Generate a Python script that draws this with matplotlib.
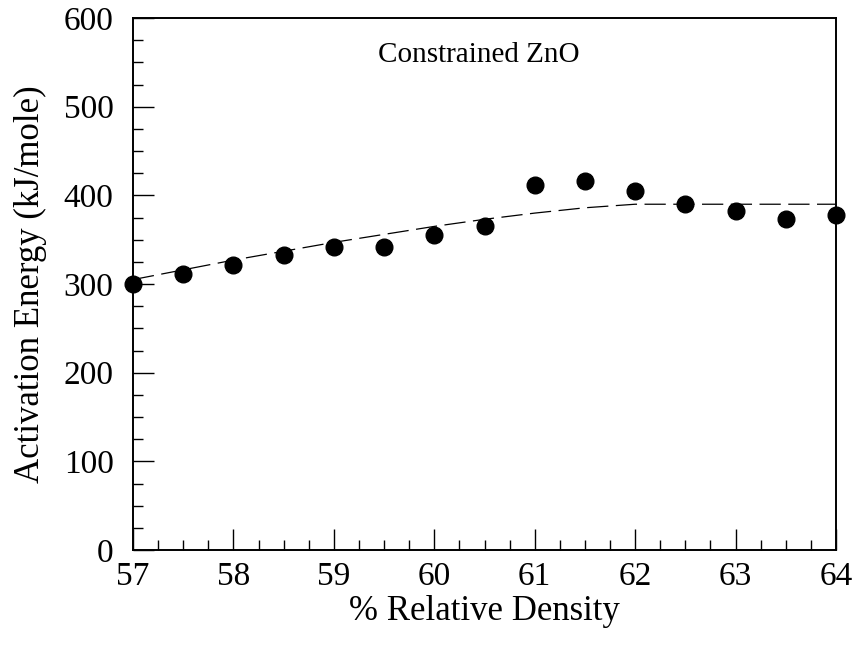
import matplotlib
matplotlib.use("Agg")
import matplotlib.pyplot as plt
from matplotlib.ticker import MultipleLocator

plt.rcParams['font.family'] = ['Liberation Serif', 'DejaVu Serif']

# measured points
density = [57.0, 57.5, 58.0, 58.5, 59.0, 59.5, 60.0, 60.5,
           61.0, 61.5, 62.0, 62.5, 63.0, 63.5, 64.0]
energy = [300, 311, 322, 333, 342, 342, 355, 365,
          412, 416, 405, 390, 382, 373, 378]

# dashed fit curve
fit_x = [57.0, 57.5, 58.0, 58.5, 59.0, 59.5, 60.0, 60.5,
         61.0, 61.5, 62.0, 62.5, 63.0, 63.5, 64.0]
fit_y = [305, 316, 327, 337, 347, 356, 365, 373,
         380, 386, 390, 390, 390, 390, 390]

fig = plt.figure(figsize=(8.57, 6.51), dpi=100)
ax = fig.add_axes([0.1552, 0.1551, 0.8203, 0.8172])

ax.plot(fit_x, fit_y, color='black', lw=0.9, dashes=(17, 6))
ax.plot(density, energy, 'o', color='black', markersize=12, clip_on=False, zorder=3)

ax.set_xlim(57, 64)
ax.set_ylim(0, 600)
ax.xaxis.set_major_locator(MultipleLocator(1))
ax.xaxis.set_minor_locator(MultipleLocator(0.25))
ax.yaxis.set_major_locator(MultipleLocator(100))
ax.yaxis.set_minor_locator(MultipleLocator(25))

ax.tick_params(which='both', direction='in', top=False, right=False,
               width=1.0, labelsize=24)
ax.tick_params(which='major', length=15)
ax.tick_params(which='minor', length=7)
ax.tick_params(axis='x', which='major', pad=8)
ax.tick_params(axis='y', which='major', pad=14)
for s in ax.spines.values():
    s.set_linewidth(1.4)

ax.set_xlabel('% Relative Density', fontsize=25)
ax.set_ylabel('Activation Energy (kJ/mole)', fontsize=25)
ax.xaxis.set_label_coords(0.5, -0.085)
ax.yaxis.set_label_coords(-0.122, 0.5)
ax.text(60.44, 550, 'Constrained ZnO', fontsize=21, ha='center', va='baseline')

fig.savefig('out.png', dpi=100)
